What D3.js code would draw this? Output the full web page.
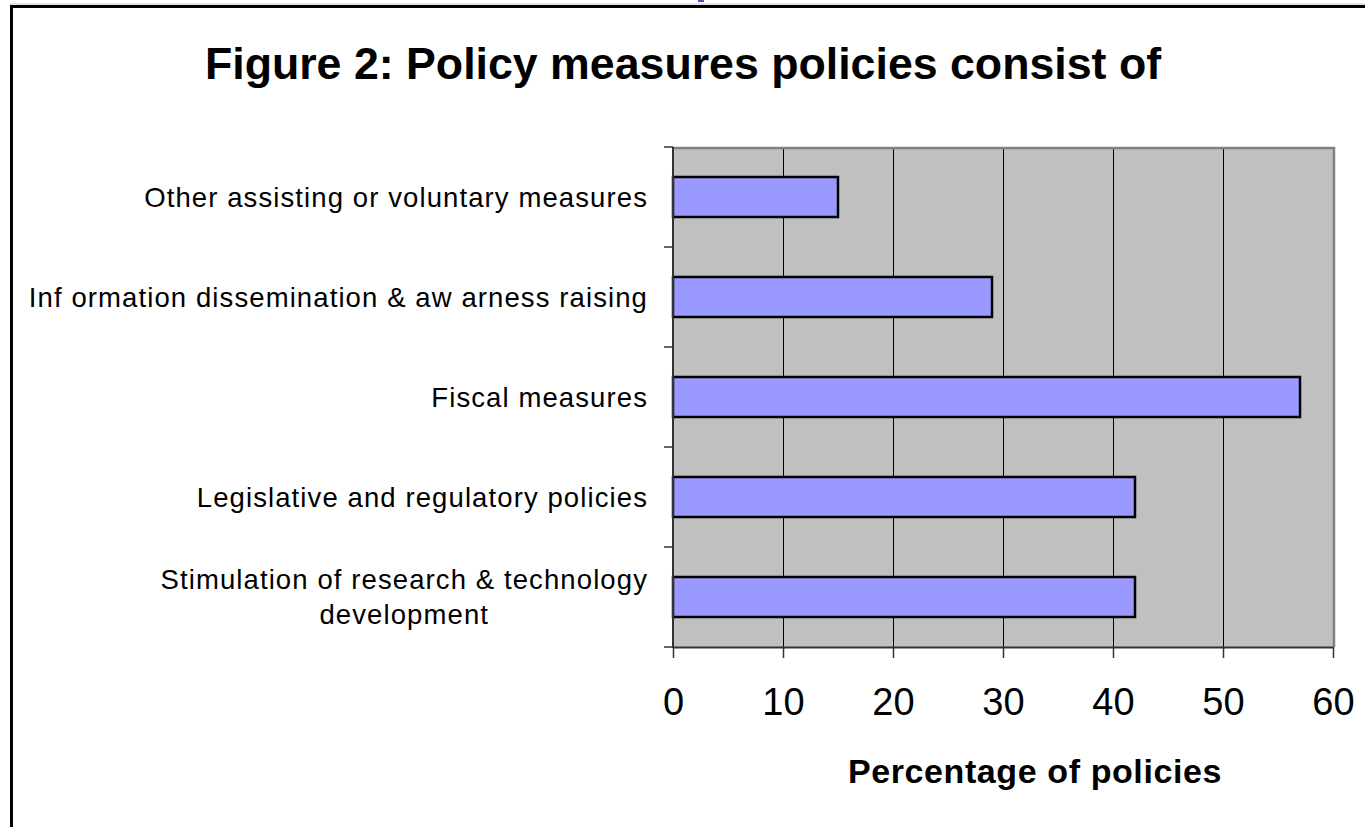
<!DOCTYPE html>
<html>
<head>
<meta charset="utf-8">
<script src="https://cdn.jsdelivr.net/npm/d3@7/dist/d3.min.js"></script>
<style>
  html, body { margin: 0; padding: 0; background: #fff; }
  svg { display: block; font-family: "Liberation Sans", Arial, sans-serif; }
</style>
</head>
<body>
<svg id="chart" width="1365" height="827"></svg>
<script>
// Policy measure categories, listed top to bottom
const categories = [
  "Other assisting or voluntary measures",
  "Inf ormation dissemination & aw arness raising",
  "Fiscal measures",
  "Legislative and regulatory policies",
  "Stimulation of research & technology\ndevelopment"
];
// Share of policies using each measure (%)
const shares = [15, 29, 57, 42, 42];
// Axis ticks
const xTicks = [0, 10, 20, 30, 40, 50, 60];
const titleText = "Figure 2: Policy measures policies consist of";
const xTitle = "Percentage of policies";

const svg = d3.select("#chart");

// Outer frame
svg.append("line").attr("x1", 10).attr("x2", 1365).attr("y1", 4).attr("y2", 4)
  .attr("stroke", "#c8c8c8").attr("stroke-width", 1);
svg.append("rect").attr("x", 11.5).attr("y", 6.5).attr("width", 1400).attr("height", 900)
  .attr("fill", "none").attr("stroke", "#000").attr("stroke-width", 3);
svg.append("rect").attr("x", 698).attr("y", 0).attr("width", 6).attr("height", 2)
  .attr("fill", "#5050c8");

// Title
svg.append("text").attr("x", 683).attr("y", 79).attr("text-anchor", "middle")
  .attr("font-size", 44.7).attr("font-weight", "bold").attr("fill", "#000")
  .text(titleText);

const x = d3.scaleLinear().domain([0, 60]).range([673, 1333]);
const y = d3.scaleBand().domain(categories).range([147, 647])
  .paddingInner(0.6).paddingOuter(0.3);

// Plot area background
svg.append("rect").attr("x", x(0)).attr("y", 147)
  .attr("width", x(60) - x(0)).attr("height", 500).attr("fill", "#c0c0c0");

// Vertical gridlines
svg.append("g").selectAll("line").data(xTicks.slice(1, -1)).join("line")
  .attr("x1", d => x(d) + 0.5).attr("x2", d => x(d) + 0.5)
  .attr("y1", 147).attr("y2", 647).attr("stroke", "#000").attr("stroke-width", 1);

// Plot border (top and right)
svg.append("path")
  .attr("d", `M${x(0)},148 H${x(60) + 1} V647`)
  .attr("fill", "none").attr("stroke", "#808080").attr("stroke-width", 2.5);

// Bars
svg.append("g").selectAll("rect").data(categories).join("rect")
  .attr("x", x(0))
  .attr("y", d => y(d))
  .attr("width", (d, i) => x(shares[i]) - x(0))
  .attr("height", y.bandwidth())
  .attr("fill", "#9999ff").attr("stroke", "#000").attr("stroke-width", 2.5);

// Y axis: line plus ticks at category boundaries
const gap = (y.step() - y.bandwidth()) / 2;
const bounds = categories.map(c => y(c) - gap).concat([y(categories[categories.length - 1]) + y.bandwidth() + gap]);
svg.append("line").attr("x1", x(0)).attr("x2", x(0)).attr("y1", 147).attr("y2", 648)
  .attr("stroke", "#333").attr("stroke-width", 2);
svg.append("g").selectAll("line").data(bounds).join("line")
  .attr("x1", x(0) - 9).attr("x2", x(0)).attr("y1", d => d).attr("y2", d => d)
  .attr("stroke", "#333").attr("stroke-width", 1.5);

// Category labels
const labelG = svg.append("g").attr("font-size", 27.5).attr("fill", "#000");
const ls = 1.1;
categories.forEach(c => {
  const lines = c.split("\n");
  const cy = y(c) + y.bandwidth() / 2;
  const lh = 35;
  if (lines.length === 1) {
    labelG.append("text").attr("x", 648).attr("y", cy).attr("dy", "0.35em")
      .attr("text-anchor", "end").attr("letter-spacing", ls).text(lines[0]);
  } else {
    // multi-line label: lines centred on each other, block right-aligned
    const t = labelG.append("text").attr("text-anchor", "middle").attr("letter-spacing", ls);
    const tmp = labelG.append("text").attr("letter-spacing", ls).text(lines[0]);
    const w = tmp.node().getComputedTextLength();
    tmp.remove();
    const cx = 648 - w / 2;
    lines.forEach((ln, k) => {
      t.append("tspan").attr("x", cx)
        .attr("y", cy + (k - (lines.length - 1) / 2) * lh)
        .attr("dy", "0.35em").text(ln);
    });
  }
});

// X axis
const xAxis = svg.append("g").attr("transform", "translate(0,647)")
  .call(d3.axisBottom(x).tickValues(xTicks).tickSizeOuter(0).tickSizeInner(11).tickPadding(30));
xAxis.select(".domain").attr("stroke", "#333").attr("stroke-width", 2);
xAxis.selectAll(".tick line").attr("stroke", "#333").attr("stroke-width", 1.5);
xAxis.selectAll(".tick text").attr("font-size", 38).attr("font-family", "Liberation Sans, Arial, sans-serif")
  .attr("fill", "#000");

// X axis title
svg.append("text").attr("x", 1035).attr("y", 783).attr("text-anchor", "middle")
  .attr("font-size", 34).attr("font-weight", "bold").attr("letter-spacing", 0.6)
  .attr("fill", "#000").text(xTitle);
</script>
</body>
</html>
